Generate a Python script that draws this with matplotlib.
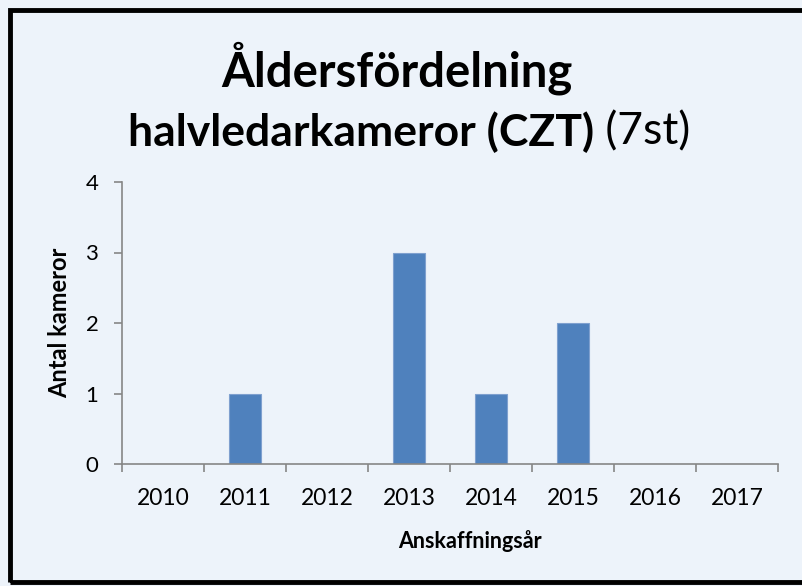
import matplotlib
matplotlib.use("Agg")
import matplotlib.pyplot as plt
from matplotlib.patches import Rectangle

years = ["2010", "2011", "2012", "2013", "2014", "2015", "2016", "2017"]
counts = [0, 1, 0, 3, 1, 2, 0, 0]
yticks = [0, 1, 2, 3, 4]

FONT = ["Lato", "DejaVu Sans"]
plt.rcParams["font.family"] = FONT
BG = "#EDF3FA"
AXC = "#868686"

W, H = 802, 586
fig = plt.figure(figsize=(W / 100, H / 100), dpi=100, facecolor=BG)

# outer border
fig.patches.append(Rectangle((9.5 / W, 1 - 581.5 / H), (806 - 9.5) / W, (581.5 - 9.5) / H,
                             transform=fig.transFigure, fill=False, ec="black", lw=3.5,
                             clip_on=False))

ax = fig.add_axes([122 / W, 1 - 464 / H, (778 - 122) / W, (464 - 182) / H])
ax.set_facecolor(BG)
x = list(range(len(years)))
ax.bar(x, counts, width=0.4, color="#4F81BD", edgecolor="#7FA0CF", linewidth=0.8, zorder=2)
ax.set_xlim(-0.5, len(years) - 0.5)
ax.set_ylim(0, 4)
ax.set_yticks(yticks)
ax.set_yticklabels([str(v) for v in yticks], fontsize=16)
ax.set_xticks([i - 0.5 for i in range(len(years) + 1)])
ax.set_xticklabels([])
ax.set_xticks(x, minor=True)
ax.set_xticklabels(years, minor=True, fontsize=16.5)
ax.tick_params(axis="x", which="minor", length=0, pad=17)
ax.tick_params(axis="x", which="major", length=6, color=AXC, width=1.2)
ax.tick_params(axis="y", length=6, color=AXC, width=1.2, pad=11)
for s in ["top", "right"]:
    ax.spines[s].set_visible(False)
for s in ["left", "bottom"]:
    ax.spines[s].set_color(AXC)
    ax.spines[s].set_linewidth(1.2)

fig.text(470 / W, 1 - 541 / H, "Anskaffningsår", ha="center", va="center",
         fontsize=15.5, fontweight="bold")
fig.text(60 / W, 1 - 323 / H, "Antal kameror", ha="center", va="center",
         rotation=90, fontsize=17, fontweight="bold")

# title
fig.text(397 / W, 1 - 68 / H, "Åldersfördelning", ha="center", va="center",
         fontsize=34, fontweight="bold")
fig.canvas.draw()
r = fig.canvas.get_renderer()
t1 = fig.text(0, 1 - 132 / H, "halvledarkameror (CZT)", ha="left", va="center",
              fontsize=32, fontweight="bold")
t2 = fig.text(0, 1 - 132 / H, " (7st)", ha="left", va="center", fontsize=32)
w1 = t1.get_window_extent(r).width
w2 = t2.get_window_extent(r).width
start = 409 - (w1 + w2) / 2
t1.set_x(start / W)
t2.set_x((start + w1) / W)

fig.savefig("out.png", dpi=100, facecolor=BG)
